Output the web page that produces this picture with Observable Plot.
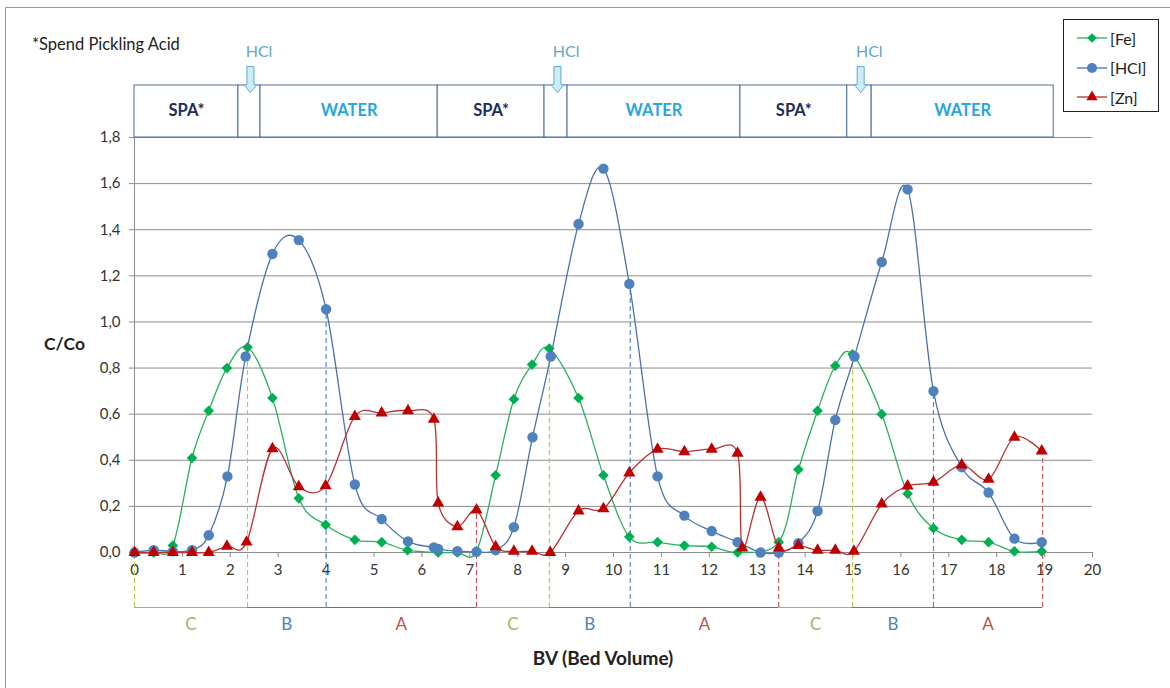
<!DOCTYPE html>
<html>
<head>
<meta charset="utf-8">
<script src="https://cdn.jsdelivr.net/npm/d3@7"></script>
<script src="https://cdn.jsdelivr.net/npm/@observablehq/plot@0.6"></script>
<style>
  html, body { margin: 0; padding: 0; background: #fff; }
  body { width: 1170px; height: 688px; position: relative; overflow: hidden; font-family: Lato, "Open Sans", sans-serif; }
  #chart { position: absolute; left: 0; top: 0; }
  .frame { position: absolute; left: 5px; top: 7px; width: 1170px; height: 700px; border-top: 1px solid #9a9a9a; border-left: 1px solid #9a9a9a; }
  .note { position: absolute; left: 32px; top: 34px; font-size: 16.5px; color: #222; }
  .ylab { position: absolute; left: 44px; top: 333px; font-size: 17.5px; font-weight: bold; color: #222; }
  .xlab { position: absolute; left: 0; width: 1206px; text-align: center; top: 646px; font-size: 19px; font-weight: bold; color: #222; }
  .legend { position: absolute; left: 1063px; top: 19px; width: 96px; height: 93px; border: 1px solid #222; background: #fff; box-sizing: border-box; }
  .legend .row { position: absolute; left: 13px; height: 22px; display: flex; align-items: center; font-size: 16px; color: #222; }
  .legend svg { margin-right: 3px; }
</style>
</head>
<body>
<div class="frame"></div>
<div id="chart"></div>
<div class="note">*Spend Pickling Acid</div>
<div class="ylab">C/Co</div>
<div class="xlab">BV (Bed Volume)</div>
<div class="legend" id="legend"></div>
<script>
// ---------- data ----------
const feX  = [0, 0.4, 0.8, 1.2, 1.55, 1.93, 2.36, 2.88, 3.43, 3.99, 4.6, 5.16, 5.7, 6.34, 6.74, 7.14, 7.54, 7.92, 8.3, 8.66, 9.27, 9.79, 10.33, 10.92, 11.48, 12.05, 12.59, 13.45, 13.86, 14.26, 14.63, 14.99, 15.6, 16.14, 16.68, 17.27, 17.83, 18.37, 18.94];
const feY  = [0, 0, 0.03, 0.41, 0.615, 0.8, 0.89, 0.67, 0.235, 0.12, 0.055, 0.045, 0.01, 0, 0, 0.005, 0.335, 0.665, 0.815, 0.885, 0.67, 0.335, 0.068, 0.045, 0.03, 0.025, 0, 0.045, 0.36, 0.615, 0.81, 0.86, 0.6, 0.255, 0.105, 0.055, 0.045, 0.005, 0.005];

const hclX = [0, 0.4, 0.8, 1.2, 1.55, 1.94, 2.32, 2.88, 3.43, 4.0, 4.6, 5.16, 5.71, 6.25, 6.34, 6.74, 7.14, 7.54, 7.92, 8.31, 8.69, 9.27, 9.79, 10.33, 10.92, 11.48, 12.05, 12.59, 13.07, 13.45, 13.86, 14.26, 14.63, 15.03, 15.6, 16.14, 16.68, 17.27, 17.83, 18.37, 18.94];
const hclY = [0, 0.01, 0.005, 0.01, 0.075, 0.33, 0.85, 1.295, 1.355, 1.055, 0.295, 0.145, 0.048, 0.022, 0.015, 0.006, 0.003, 0.01, 0.11, 0.5, 0.85, 1.425, 1.665, 1.165, 0.33, 0.16, 0.093, 0.045, 0, 0, 0.04, 0.18, 0.575, 0.85, 1.26, 1.575, 0.70, 0.37, 0.26, 0.06, 0.045];

const znX  = [0, 0.4, 0.8, 1.2, 1.55, 1.93, 2.34, 2.88, 3.43, 3.99, 4.6, 5.16, 5.71, 6.25, 6.34, 6.74, 7.14, 7.54, 7.92, 8.3, 8.68, 9.27, 9.79, 10.33, 10.92, 11.48, 12.05, 12.59, 12.69, 13.07, 13.45, 13.86, 14.26, 14.63, 15.02, 15.6, 16.14, 16.68, 17.27, 17.83, 18.37, 18.94];
const znY  = [0, 0, 0, 0, 0, 0.027, 0.045, 0.45, 0.285, 0.29, 0.59, 0.605, 0.615, 0.578, 0.215, 0.112, 0.184, 0.025, 0.005, 0.005, 0, 0.18, 0.19, 0.345, 0.448, 0.437, 0.448, 0.43, 0.02, 0.24, 0.02, 0.03, 0.01, 0.01, 0.005, 0.21, 0.288, 0.305, 0.38, 0.318, 0.5, 0.44];

// process stages (top bar) — BV boundaries
const stageLabels = ["SPA*", "", "WATER", "SPA*", "", "WATER", "SPA*", "", "WATER"];
const stageStart  = [0, 2.17, 2.63, 6.33, 8.56, 9.04, 12.65, 14.88, 15.39];
const stageEnd    = [2.17, 2.63, 6.33, 8.56, 9.04, 12.65, 14.88, 15.39, 19.19];

// HCl injection arrows
const hclArrowBV = [2.42, 8.83, 15.16];
const hclArrowText = ["HCl", "HCl", "HCl"];

// phases (bottom brackets)
const phaseLabels = ["C", "B", "A", "C", "B", "A", "C", "B", "A"];
const phaseStart  = [0, 2.36, 4.0, 7.14, 8.66, 10.35, 13.45, 14.99, 16.68];
const phaseEnd    = [2.36, 4.0, 7.14, 8.66, 10.35, 13.45, 14.99, 16.68, 18.96];

// dashed dividers: BV position, value where it starts, phase colour
const dividerBV    = [0, 2.36, 4.0, 7.14, 8.66, 10.35, 13.45, 14.99, 16.68, 18.96];
const dividerTop   = [0, 0.89, 1.055, 0.184, 0.885, 1.165, 0.03, 0.86, 0.70, 0.44];
const dividerPhase = ["C", "C", "B", "A", "C", "B", "A", "C", "B", "A"];

const xTicks = d3.range(0, 21);
const yTicks = [0, 0.2, 0.4, 0.6, 0.8, 1.0, 1.2, 1.4, 1.6, 1.8];

// ---------- layout ----------
const W = 1170, H = 688, ML = 134, MR = 78, MT = 137, MB = 136;
const Y0 = H - MB, Y1 = MT;
const yAt = px => 1.8 * (Y0 - px) / (Y0 - Y1);   // pixel row -> data value (for annotations outside the frame)

const phaseColor = {C: "#9bbb59", B: "#4f81bd", A: "#c0504d"};
const dashColor  = {C: "#b9c45a", B: "#4f81bd", A: "#c0504d"};

const toRows = (xs, ys) => xs.map((x, i) => ({bv: x, c: ys[i]}));
const fe = toRows(feX, feY), hcl = toRows(hclX, hclY), zn = toRows(znX, znY);
const stages = stageLabels.map((l, i) => ({label: l, x1: stageStart[i], x2: stageEnd[i]}));
const arrows = hclArrowBV.map((x, i) => ({bv: x, text: hclArrowText[i]}));
const phases = phaseLabels.map((l, i) => ({label: l, x1: phaseStart[i], x2: phaseEnd[i]}));
const dividers = dividerBV.map((x, i) => ({bv: x, top: dividerTop[i], phase: dividerPhase[i]}));

const arrowSymbol = {
  draw(ctx, size) {
    const r = Math.sqrt(size / Math.PI);
    const w = r * 0.27, hw = r * 0.5, h = r * 0.6;
    ctx.moveTo(-w, -r); ctx.lineTo(w, -r); ctx.lineTo(w, r - h); ctx.lineTo(hw, r - h);
    ctx.lineTo(0, r); ctx.lineTo(-hw, r - h); ctx.lineTo(-w, r - h); ctx.closePath();
  }
};

const yBracket = yAt(607), yPhaseLbl = yAt(624);
const barTop = yAt(85);

const chart = Plot.plot({
  width: W, height: H,
  marginLeft: ML, marginRight: MR, marginTop: MT, marginBottom: MB,
  style: {fontFamily: "Lato, 'Open Sans', sans-serif", fontSize: "14px", color: "#333", background: "transparent", overflow: "visible"},
  x: {domain: [0, 20]},
  y: {domain: [0, 1.8]},
  marks: [
    Plot.gridY(yTicks, {stroke: "#8c8c8c", strokeOpacity: 1, strokeWidth: 1}),
    Plot.ruleX([0], {y1: 0, y2: 1.8, stroke: "#8c8c8c"}),
    Plot.axisY({ticks: yTicks, tickSize: 5, tickPadding: 9, fontSize: 15, stroke: "#8c8c8c", fill: "#333", label: null, tickFormat: d => d.toFixed(1).replace(".", ",")}),
    Plot.axisX({ticks: xTicks, tickSize: 5, tickPadding: 7, fontSize: 15, stroke: "#8c8c8c", fill: "#333", label: null, tickFormat: d => String(d)}),
    Plot.ruleY([0], {stroke: "#8c8c8c", strokeWidth: 1.2}),
    // process bar
    Plot.rect(stages, {x1: "x1", x2: "x2", y1: () => 1.8, y2: () => barTop, fill: "#fff", stroke: "#4a6d9c", strokeWidth: 1}),
    Plot.text(stages, {x: d => (d.x1 + d.x2) / 2, y: () => yAt(110), text: "label", fontWeight: "bold", fontSize: 16.5,
      fill: d => d.label === "WATER" ? "#29a6df" : "#1f2d5a"}),
    // HCl arrows
    Plot.dot(arrows, {x: "bv", y: () => yAt(79), symbol: arrowSymbol, r: 13, fill: "#c9eef7", stroke: "#63a9c6", strokeWidth: 1}),
    Plot.text(arrows, {x: d => d.bv + 0.18, y: () => yAt(51), text: "text", fill: "#5fa8c3", fontSize: 16}),
    // dashed dividers
    Plot.ruleX(dividers, {x: "bv", y1: () => yBracket, y2: "top", stroke: d => dashColor[d.phase], strokeDasharray: "5,3", strokeWidth: 1.1}),
    // bottom brackets
    Plot.ruleY(phases, {y: () => yBracket, x1: "x1", x2: "x2", stroke: d => phaseColor[d.label], strokeWidth: 1.2}),
    Plot.text(phases, {x: d => (d.x1 + d.x2) / 2, y: () => yPhaseLbl, text: "label", fontSize: 17, fill: d => phaseColor[d.label]}),
    // series
    Plot.line(fe, {x: "bv", y: "c", curve: "cardinal", stroke: "#2fae5e", strokeWidth: 1.3}),
    Plot.dot(fe, {x: "bv", y: "c", symbol: "diamond2", r: 4.8, fill: "#00b050", stroke: "none"}),
    Plot.line(hcl, {x: "bv", y: "c", curve: "cardinal", stroke: "#4a72aa", strokeWidth: 1.3}),
    Plot.dot(hcl, {x: "bv", y: "c", symbol: "circle", r: 5.2, fill: "#4f81bd", stroke: "none"}),
    Plot.line(zn, {x: "bv", y: "c", curve: "cardinal", stroke: "#b83232", strokeWidth: 1.3}),
    Plot.dot(zn, {x: "bv", y: "c", symbol: "triangle", r: 4.5, fill: "#c00000", stroke: "none"})
  ]
});
document.getElementById("chart").appendChild(chart);

// legend
const legendItems = [
  {name: "[Fe]", line: "#2fae5e", fill: "#00b050", sym: d3.symbolDiamond2, size: 60},
  {name: "[HCl]", line: "#4a72aa", fill: "#4f81bd", sym: d3.symbolCircle, size: 80},
  {name: "[Zn]", line: "#b83232", fill: "#c00000", sym: d3.symbolTriangle, size: 55}
];
const lg = document.getElementById("legend");
legendItems.forEach((it, i) => {
  const row = document.createElement("div");
  row.className = "row";
  row.style.top = (7 + i * 29.5) + "px";
  const path = d3.symbol(it.sym, it.size)();
  row.innerHTML = `<svg width="30" height="14"><line x1="0" x2="30" y1="7" y2="7" stroke="${it.line}" stroke-width="1.3"/><path transform="translate(15,7)" d="${path}" fill="${it.fill}"/></svg><span>${it.name}</span>`;
  lg.appendChild(row);
});
</script>
</body>
</html>
